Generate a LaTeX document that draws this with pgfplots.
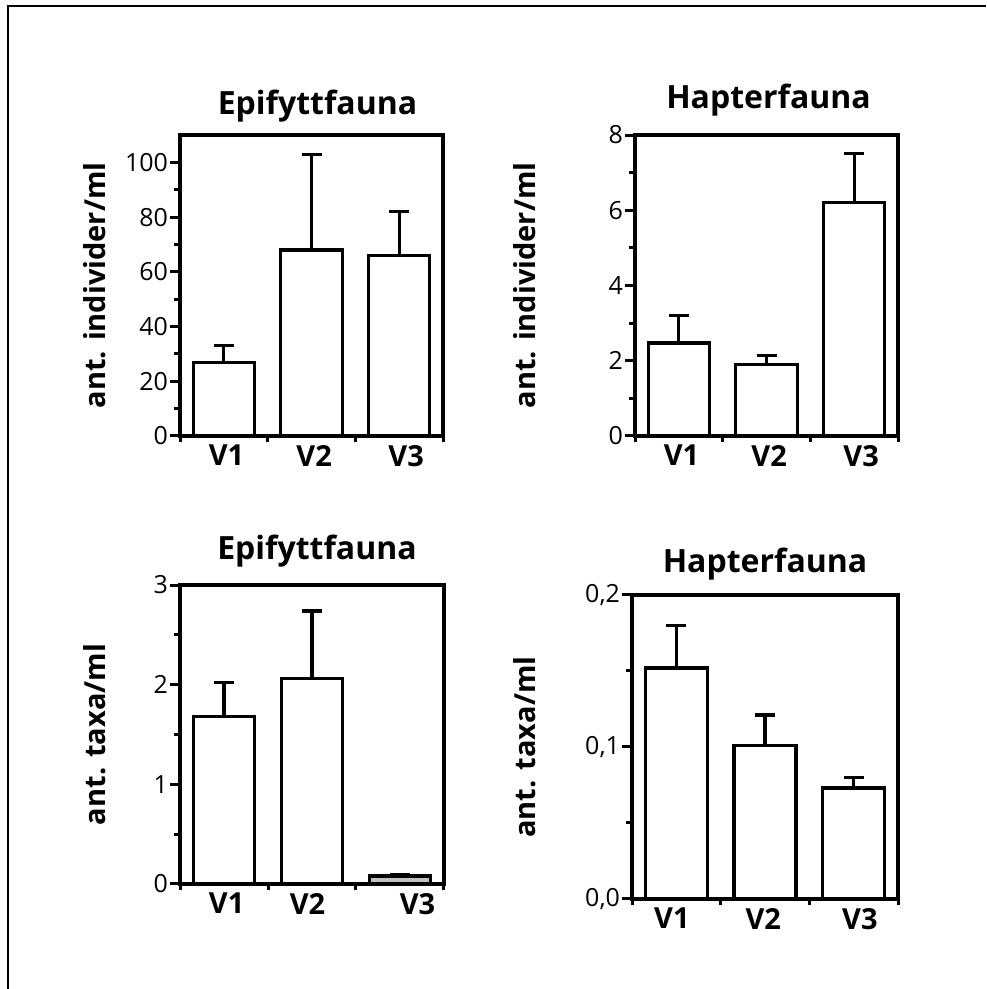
\documentclass[border=0pt]{standalone}
\usepackage{fontspec}
\setmainfont{Open Sans}
\usepackage{pgfplots}
\pgfplotsset{compat=1.18}
\pgfplotsset{
  panel/.style={
    scale only axis,
    anchor=south west,
    xmin=-0.5, xmax=2.5, ymin=0,
    axis line style={line width=1.6pt},
    tick align=outside,
    tick pos=left,
    major tick length=5pt,
    minor tick length=2.8pt,
    every tick/.append style={black, line width=1.5pt},
    minor xtick={-0.5,0.5,1.5,2.5},
    major x tick style={draw=none},
    xticklabels={V1,V2,V3},
    xticklabel style={font=\fontsize{14.5}{17}\selectfont\bfseries, yshift=4pt},
    yticklabel style={font=\fontsize{12.5}{14}\selectfont, xshift=2.5pt, /pgf/number format/assume math mode=true},
    /pgf/number format/assume math mode=true,
    ylabel style={font=\fontsize{14.5}{17}\selectfont\bfseries, anchor=center},
    ybar, bar width=0.7,
    clip=false,
  },
  ttl/.style n args={2}{every axis title/.style={at={(axis description cs:0.5,1)}, anchor=base,
     font=\fontsize{16}{19}\selectfont\bfseries, yshift=#1, xshift=#2}},
  bars/.style={draw=black, line width=1.6pt, fill=white, bar shift=0pt,
    error bars/y dir=plus, error bars/y explicit,
    error bars/error bar style={line width=1.6pt, black},
    error bars/error mark options={line width=1.6pt, black, mark size=5pt, rotate=90}},
}
\begin{document}
\begin{tikzpicture}
\path[use as bounding box] (0,0) rectangle (493pt,494.5pt);
\draw[line width=1pt] (4pt,0) -- (4pt,491.5pt) -- (493pt,491.5pt);

% Panel 1
\begin{axis}[panel, at={(90pt,276.5pt)}, width=131.5pt, height=150.5pt,
  ymax=110, ytick={0,20,...,100}, minor y tick num=1,
  xtick={0.03,1.03,2.08},
  title={Epifyttfauna}, ttl={10pt}{3pt},
  ylabel={ant. individer/ml}, ylabel style={at={(axis description cs:-0.323,0.5)}}]
\addplot[bars] coordinates {(0,27) +- (0,6) (1,68) +- (0,35) (2,66) +- (0,16)};
\end{axis}

% Panel 2
\begin{axis}[panel, at={(317.5pt,276.5pt)}, width=131.5pt, height=150.5pt,
  ymax=8, ytick={0,2,...,8}, minor y tick num=1,
  xtick={0.03,1.03,2.08},
  title={Hapterfauna}, ttl={13.5pt}{1pt},
  ylabel={ant. individer/ml}, ylabel style={at={(axis description cs:-0.418,0.5)}}]
\addplot[bars] coordinates {(0,2.47) +- (0,0.73) (1,1.9) +- (0,0.25) (2,6.2) +- (0,1.3)};
\end{axis}

% Panel 3
\begin{axis}[panel, at={(90pt,52.5pt)}, width=132pt, height=149.5pt,
  ymax=3, ytick={0,1,2,3}, minor y tick num=1,
  xtick={0.03,0.95,2.2},
  title={Epifyttfauna}, ttl={13pt}{2.5pt},
  ylabel={ant. taxa/ml}, ylabel style={at={(axis description cs:-0.322,0.5)}}]
\addplot[bars] coordinates {(0,1.68) +- (0,0.34) (1,2.06) +- (0,0.68)};
\addplot[bars, fill=black!25] coordinates {(2,0.08) +- (0,0.012)};
\end{axis}

% Panel 4
\begin{axis}[panel, at={(316pt,45pt)}, width=133pt, height=152pt,
  ymax=0.2, ytick={0,0.1,0.2}, minor y tick num=1,
  yticklabel style={/pgf/number format/.cd, fixed, fixed zerofill, precision=1, use comma},
  xtick={-0.05,0.98,2.07},
  title={Hapterfauna}, ttl={11pt}{0pt},
  ylabel={ant. taxa/ml}, ylabel style={at={(axis description cs:-0.402,0.5)}}]
\addplot[bars] coordinates {(0,0.152) +- (0,0.028) (1,0.101) +- (0,0.020) (2,0.073) +- (0,0.007)};
\end{axis}
\end{tikzpicture}
\end{document}
